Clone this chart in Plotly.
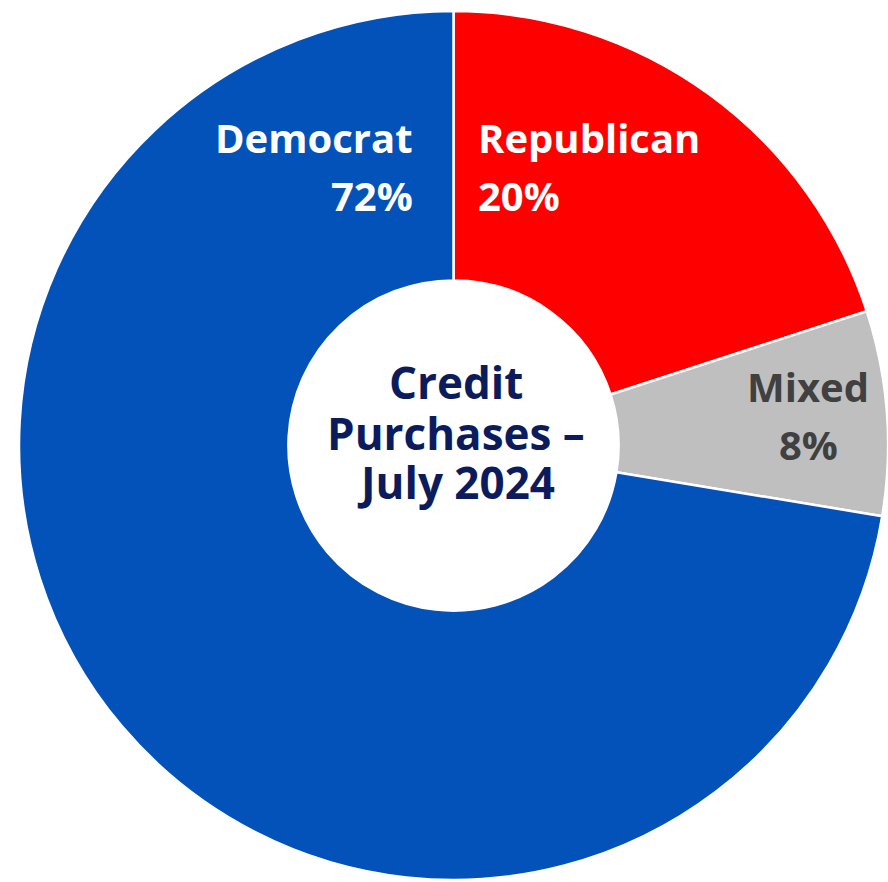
import plotly.graph_objects as go

# Data
categories = ["Republican", "Mixed", "Democrat"]
shares = [20.0, 7.6, 72.4]
pct_labels = ["20%", "8%", "72%"]
colors = ["#FF0000", "#BFBFBF", "#0352BA"]
label_colors = ["#FFFFFF", "#404040", "#FFFFFF"]
center_lines = ["Credit", "Purchases –", "July 2024"]

W, H = 888, 882
FONT = "Open Sans"

fig = go.Figure(
    go.Pie(
        labels=categories,
        values=shares,
        sort=False,
        direction="clockwise",
        rotation=0,
        hole=0.38,
        marker=dict(colors=colors, line=dict(color="white", width=2.5)),
        textinfo="none",
        hoverinfo="label+percent",
        showlegend=False,
        domain=dict(x=[19 / W, 1], y=[0, 1 - 9 / H]),
    )
)

# label layout (name line / pct line), positions in pixels from the top-left
label_pos = {
    "Republican": dict(x=476, y1=137, y2=195, anchor="left"),
    "Mixed": dict(x=808, y1=387, y2=444, anchor="center"),
    "Democrat": dict(x=415, y1=137, y2=195, anchor="right"),
}

annotations = []
for name, pct, col in zip(categories, pct_labels, label_colors):
    p = label_pos[name]
    for txt, yy in ((name, p["y1"]), (pct, p["y2"])):
        annotations.append(
            dict(
                text=txt,
                x=p["x"] / W,
                y=1 - yy / H,
                xref="paper",
                yref="paper",
                xanchor=p["anchor"],
                yanchor="middle",
                showarrow=False,
                font=dict(family=FONT, size=40, color=col, weight="bold"),
            )
        )

center_y = [382, 433, 482]
for txt, yy in zip(center_lines, center_y):
    annotations.append(
        dict(
            text=txt,
            x=456 / W,
            y=1 - yy / H,
            xref="paper",
            yref="paper",
            xanchor="center",
            yanchor="middle",
            showarrow=False,
            font=dict(family=FONT, size=44, color="#0C1B5C", weight="bold"),
        )
    )

fig.update_layout(
    width=W,
    height=H,
    margin=dict(l=0, r=0, t=0, b=0),
    paper_bgcolor="white",
    plot_bgcolor="white",
    annotations=annotations,
)

fig.write_html("out.html")
